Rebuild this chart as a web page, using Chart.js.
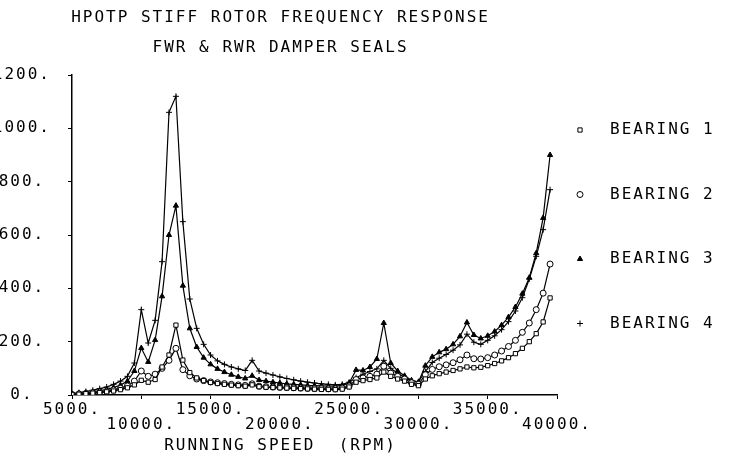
<!DOCTYPE html>
<html>
<head>
<meta charset="utf-8">
<script src="https://cdn.jsdelivr.net/npm/chart.js@4.4.1/dist/chart.umd.min.js"></script>
<style>
  body { margin: 0; background: #fff; }
  #wrap { width: 733px; height: 464px; }
</style>
</head>
<body>
<div id="wrap"><canvas id="myChart"></canvas></div>
<script>
var titleLines = ['HPOTP STIFF ROTOR FREQUENCY RESPONSE', 'FWR & RWR DAMPER SEALS'];
var xTitle = 'RUNNING SPEED  (RPM)';
var seriesNames = ['BEARING 1', 'BEARING 2', 'BEARING 3', 'BEARING 4'];

var rpm = [5000, 5500, 6000, 6500, 7000, 7500, 8000, 8500, 9000, 9500,
  10000, 10500, 11000, 11500, 12000, 12500, 13000, 13500, 14000, 14500,
  15000, 15500, 16000, 16500, 17000, 17500, 18000, 18500, 19000, 19500,
  20000, 20500, 21000, 21500, 22000, 22500, 23000, 23500, 24000, 24500,
  25000, 25500, 26000, 26500, 27000, 27500, 28000, 28500, 29000, 29500,
  30000, 30500, 31000, 31500, 32000, 32500, 33000, 33500, 34000, 34500,
  35000, 35500, 36000, 36500, 37000, 37500, 38000, 38500, 39000, 39500];

var bearing1 = [2, 3, 5, 7, 9, 12, 15, 20, 27, 38,
  55, 48, 58, 105, 150, 262, 131, 84, 64, 54,
  47, 43, 40, 37, 35, 33, 38, 31, 29, 28,
  27, 26, 25, 24, 23, 22, 21, 21, 20, 22,
  30, 48, 54, 58, 64, 86, 70, 60, 52, 40,
  35, 60, 72, 80, 86, 92, 98, 105, 102, 104,
  110, 118, 128, 140, 155, 175, 200, 230, 274, 364];

var bearing2 = [2, 4, 6, 8, 11, 14, 19, 25, 34, 52,
  90, 70, 78, 100, 130, 175, 95, 72, 60, 54,
  49, 46, 43, 40, 38, 36, 42, 33, 31, 30,
  29, 28, 27, 26, 25, 24, 24, 23, 23, 26,
  34, 58, 64, 70, 78, 108, 82, 70, 60, 46,
  40, 76, 96, 106, 113, 121, 132, 150, 136, 135,
  140, 150, 165, 182, 205, 235, 270, 320, 382, 491];

var bearing3 = [3, 6, 9, 12, 16, 21, 28, 37, 52, 90,
  176, 124, 206, 370, 600, 710, 410, 250, 180, 140,
  115, 98, 86, 76, 68, 62, 72, 56, 52, 48,
  45, 42, 40, 38, 36, 35, 34, 33, 33, 36,
  45, 94, 92, 105, 135, 270, 120, 90, 72, 55,
  48, 110, 143, 160, 172, 190, 220, 272, 225, 212,
  222, 238, 262, 292, 330, 380, 440, 532, 664, 900];

var bearing4 = [5, 9, 13, 18, 24, 30, 40, 52, 70, 120,
  320, 195, 280, 500, 1060, 1120, 650, 360, 250, 190,
  150, 128, 115, 105, 98, 92, 130, 90, 82, 75,
  68, 62, 57, 52, 48, 45, 42, 40, 38, 40,
  48, 65, 78, 88, 98, 130, 100, 82, 66, 52,
  50, 88, 122, 138, 152, 168, 188, 228, 198, 190,
  205, 222, 245, 275, 315, 365, 435, 520, 620, 770];

var markers = ['rect', 'circle', 'triangle', 'cross'];
var markerFill = ['#fff', '#fff', '#000', '#000'];

var plotFont = { family: '"DejaVu Sans Mono", monospace', size: 16, lineHeight: 0.95 };
var spacing = '2px';

function points(values) {
  return values.map(function (v, i) { return { x: rpm[i], y: v }; });
}

function series(name, values, i) {
  return {
    label: name,
    data: points(values),
    borderColor: '#000',
    borderWidth: 1.2,
    backgroundColor: markerFill[i],
    pointStyle: markers[i],
    pointRadius: 3,
    pointBorderWidth: 1,
    pointBorderColor: '#000',
    pointBackgroundColor: markerFill[i],
    tension: 0
  };
}

// plotter-style lettering, titles and side legend
var plotterText = {
  id: 'plotterText',
  beforeUpdate: function (chart) { chart.ctx.letterSpacing = spacing; },
  beforeDraw: function (chart) { chart.ctx.letterSpacing = spacing; },
  afterDraw: function (chart) {
    var ctx = chart.ctx, a = chart.chartArea;
    ctx.save();
    ctx.letterSpacing = spacing;
    ctx.font = '16px ' + plotFont.family;
    ctx.fillStyle = '#000';
    ctx.textBaseline = 'middle';
    ctx.textAlign = 'center';
    var cx = a.left + (a.right - a.left) * 0.43;
    titleLines.forEach(function (t, i) { ctx.fillText(t, cx, 18 + i * 30); });
    ctx.fillText(xTitle, cx, 446);

    ctx.textAlign = 'left';
    chart.data.datasets.forEach(function (ds, i) {
      var y = a.top + 55 + i * 64.5;
      ctx.strokeStyle = '#000';
      ctx.fillStyle = markerFill[i];
      ctx.lineWidth = 1;
      Chart.helpers.drawPoint(ctx, { pointStyle: markers[i], radius: 3, rotation: 0, borderWidth: 1 }, a.right + 23, y);
      ctx.fillStyle = '#000';
      ctx.fillText(ds.label, a.right + 53, y);
    });
    ctx.restore();
  }
};

var ctx = document.getElementById('myChart');
var myChart = new Chart(ctx, {
  type: 'line',
  data: {
    datasets: [
      series(seriesNames[0], bearing1, 0),
      series(seriesNames[1], bearing2, 1),
      series(seriesNames[2], bearing3, 2),
      series(seriesNames[3], bearing4, 3)
    ]
  },
  options: {
    responsive: true,
    maintainAspectRatio: false,
    animation: false,
    layout: { padding: { top: 75, right: 176, left: 0, bottom: 0 } },
    scales: {
      x: {
        type: 'linear',
        min: 5000,
        max: 40000,
        afterFit: function (scale) { scale.height = 69; },
        border: { color: '#000', width: 1.5 },
        grid: { drawOnChartArea: false, color: '#000', tickLength: 4 },
        ticks: {
          stepSize: 5000,
          maxRotation: 0,
          autoSkip: false,
          color: '#000',
          font: plotFont,
          padding: 3,
          callback: function (v, i) {
            var s = v + '.';
            return i % 2 === 0 ? [s, ''] : ['', s];
          }
        }
      },
      y: {
        min: 0,
        max: 1200,
        afterFit: function (scale) { scale.width = 72; },
        border: { color: '#000', width: 1.5 },
        grid: { drawOnChartArea: false, color: '#000', tickLength: 4 },
        ticks: {
          stepSize: 200,
          color: '#000',
          font: plotFont,
          crossAlign: 'center',
          padding: 17,
          callback: function (v) { return v + '.'; }
        }
      }
    },
    plugins: {
      legend: { display: false },
      tooltip: { enabled: false }
    }
  },
  plugins: [plotterText]
});
</script>
</body>
</html>
